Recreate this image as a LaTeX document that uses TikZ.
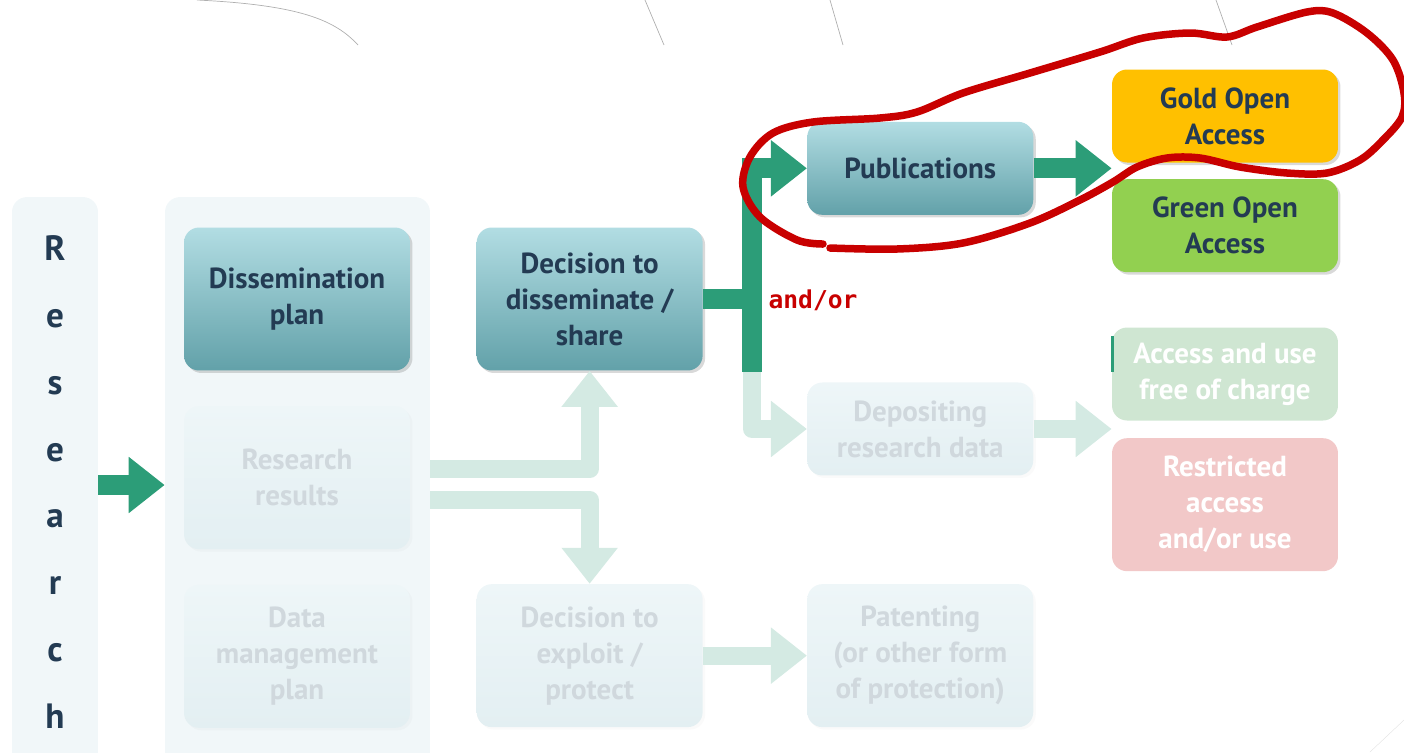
\documentclass[tikz,border=0pt]{standalone}
\usepackage{fontspec}
\setmainfont{PT Sans}
\newfontfamily\andorfont{DejaVu Sans Mono}
\usetikzlibrary{arrows.meta, positioning, shadows}
\definecolor{navytext}{RGB}{35, 59, 83}
\definecolor{tealtop}{RGB}{178, 221, 227}
\definecolor{tealbot}{RGB}{98, 161, 169}
\definecolor{arrowgreen}{RGB}{44, 157, 120}
\definecolor{fadegreen}{RGB}{212, 234, 227}
\definecolor{fadetop}{RGB}{238, 246, 248}
\definecolor{fadebot}{RGB}{227, 239, 242}
\definecolor{fadetext}{RGB}{208, 216, 221}
\definecolor{panelbg}{RGB}{241, 247, 249}
\definecolor{goldoa}{RGB}{255, 192, 0}
\definecolor{greenoa}{RGB}{146, 208, 80}
\definecolor{fadeoagreen}{RGB}{207, 230, 210}
\definecolor{faderose}{RGB}{242, 200, 200}
\definecolor{markred}{RGB}{200, 0, 0}
\definecolor{decorgrey}{RGB}{175, 175, 175}

\begin{document}
\begin{tikzpicture}[
  x=0.02cm, y=-0.02cm,
  box/.style={rectangle, rounded corners=0.3cm, minimum width=4.52cm, align=center, inner sep=2pt, font=\fontsize{16.5}{20.5}\selectfont\bfseries},
  tall/.style={minimum height=2.86cm},
  short/.style={minimum height=1.86cm},
  teal/.style={box, top color=tealtop, bottom color=tealbot, text=navytext, drop shadow={opacity=0.3, shadow xshift=0.05cm, shadow yshift=-0.05cm}},
  faded/.style={box, top color=fadetop, bottom color=fadebot, text=fadetext, drop shadow={opacity=0.04, shadow xshift=0.05cm, shadow yshift=-0.05cm}},
  oabox/.style={box, text=navytext, drop shadow={opacity=0.3, shadow xshift=0.05cm, shadow yshift=-0.05cm}},
  panelbox/.style={rectangle, rounded corners=0.3cm, fill=panelbg},
  bigarrow/.style={draw=arrowgreen, line width=0.4cm, -{Triangle[length=0.72cm, width=1.08cm]}},
  fadearrow/.style={bigarrow, draw=fadegreen, line width=0.36cm, line join=round}
]
  \useasboundingbox (0,0) rectangle (1404,752);

  % slide decoration
  \draw[decorgrey, thin] (197,0) .. controls (300,5) and (335,20) .. (358,45);
  \draw[decorgrey, thin] (645,0) -- (664,45);
  \draw[decorgrey, thin] (830,0) -- (843,45);
  \draw[decorgrey, thin] (1216,0) -- (1232,45);
  \draw[decorgrey!40, very thin] (1370,752) -- (1404,720);

  % background columns
  \node[panelbox, minimum width=1.72cm, minimum height=11.4cm, text=navytext, font=\fontsize{20}{38.1}\selectfont\bfseries, align=center] (res) at (55,482) {R\\e\\s\\e\\a\\r\\c\\h};
  \node[panelbox, minimum width=5.3cm, minimum height=11.4cm] (panel) at (297.5,482) {};

  % boxes
  \node[teal, tall] (dplan) at (297,299) {Dissemination\\plan};
  \node[faded, tall, below=0.7cm of dplan] (rresults) {Research\\results};
  \node[faded, tall, below=0.7cm of rresults] (dmp) {Data\\management\\plan};
  \node[teal, tall, right=1.32cm of dplan] (dshare) {Decision to\\disseminate /\\share};
  \node[faded, tall, below=4.26cm of dshare] (dexploit) {Decision to\\exploit /\\protect};
  \node[faded, tall, right=2.08cm of dexploit] (patent) {Patenting\\(or other form\\of protection)};
  \node[faded, short, above=2.16cm of patent] (depo) {Depositing\\research data};
  \node[teal, short, above=3.34cm of depo] (pubs) {Publications};
  \node[oabox, short, fill=goldoa] (gold) at (1225,116) {Gold Open\\Access};
  \node[oabox, short, fill=greenoa, below=0.32cm of gold] (green) {Green Open\\Access};
  \node[box, short, fill=fadeoagreen, text=white] (free) at (1225,374) {Access and use\\free of charge};
  \node[box, minimum height=2.66cm, fill=faderose, text=white, below=0.34cm of free] (restr) {Restricted\\access\\and/or use};

  % arrows
  \coordinate (fork) at (752,299);
  \coordinate (fadeedge) at (752,372);
  \draw[bigarrow] (res.east |- 0,485) -- (panel.west |- 0,485);
  \draw[fadearrow] (panel.east |- 0,469) -| (dshare.south);
  \draw[fadearrow] (panel.east |- 0,500) -| (dexploit.north);
  \draw[fadearrow] (dexploit) -- (patent);
  \draw[fadearrow] (dshare.east) -- (fork) |- (depo.west);
  \draw[bigarrow] (dshare.east) -- (fork) |- (pubs.west);
  \draw[arrowgreen, line width=0.4cm] (fork) -- (fadeedge);
  \draw[bigarrow] (pubs.east) -- (pubs.east -| gold.west);
  \draw[fadearrow] (depo.east) -- (depo.east -| free.west);
  \fill[arrowgreen] (1111,336) rectangle (1114,372);

  \node[font=\andorfont\bfseries\fontsize{14}{16}\selectfont, text=markred] (andor) at (813,300) {and/or};

  % hand-drawn mark
  \draw[markred, line width=0.15cm, line cap=round, line join=round] plot[smooth, tension=0.55] coordinates {
    (823,244) (797,240) (760,217) (743,187) (750,157) (773,133) (813,122) (880,118) (917,112)
    (963,93) (1030,73) (1100,52) (1143,38) (1190,33) (1227,37) (1257,27) (1307,12) (1333,13)
    (1367,33) (1393,60) (1404,93) (1402,117) (1383,140) (1360,160) (1327,173) (1287,173)
    (1240,167) (1200,158) (1167,158) (1137,167) (1113,182) (1080,200) (1030,223) (963,243)
    (897,249) (830,248)};
\end{tikzpicture}
\end{document}
